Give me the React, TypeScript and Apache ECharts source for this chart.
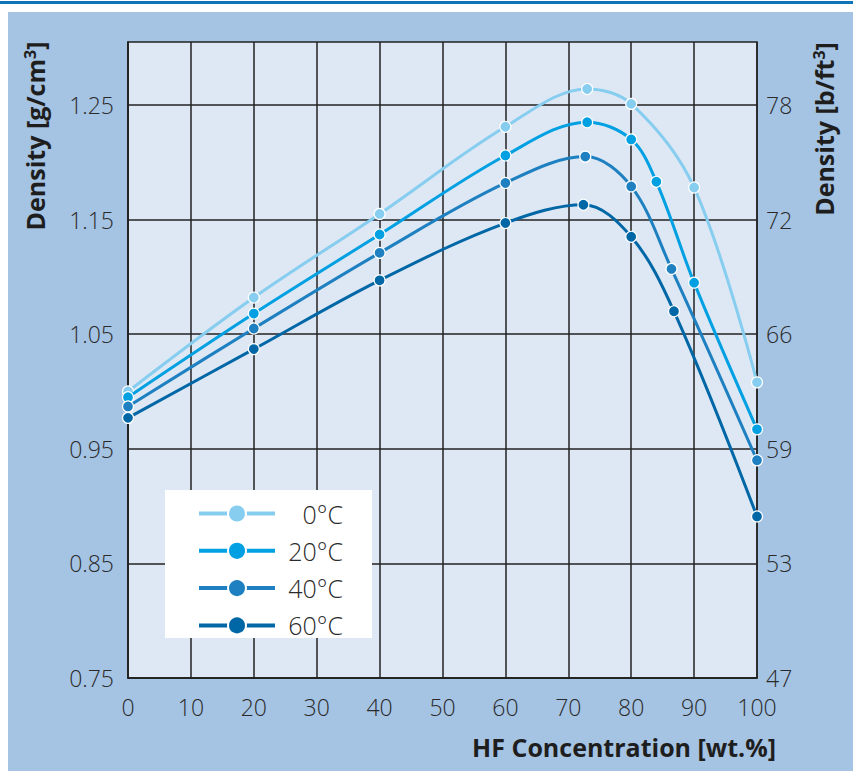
import React, { useEffect, useRef } from "react";
import * as echarts from "echarts";

// ---- Data (HF concentration [wt.%] vs density [g/cm³]) ----
const seriesNames = ["0°C", "20°C", "40°C", "60°C"];

const conc0 = [0, 20, 40, 60, 73, 80, 90, 100];
const dens0 = [1.0, 1.082, 1.155, 1.231, 1.264, 1.251, 1.178, 1.008];

const conc20 = [0, 20, 40, 60, 73, 80, 84, 90, 100];
const dens20 = [0.995, 1.068, 1.137, 1.206, 1.235, 1.22, 1.183, 1.095, 0.967];

const conc40 = [0, 20, 40, 60, 72.7, 80, 86.4, 100];
const dens40 = [0.987, 1.055, 1.121, 1.182, 1.205, 1.179, 1.107, 0.94];

const conc60 = [0, 20, 40, 60, 72.4, 80, 86.8, 100];
const dens60 = [0.977, 1.037, 1.097, 1.147, 1.163, 1.135, 1.07, 0.891];

const leftTickValues = [0.75, 0.85, 0.95, 1.05, 1.15, 1.25];
const rightTickLabels = ["47", "53", "59", "66", "72", "78"];

const seriesColors = ["#86cdef", "#00a0e2", "#1e80c0", "#0067a7"];

const FONT = "'Open Sans', 'Noto Sans', sans-serif";
const TEXT = "#2a2a2a";
const TITLE = "#1e1e1e";
const GRIDC = "#222222";

function pairs(xs: number[], ys: number[]) {
  return xs.map((x, i) => [x, ys[i]]);
}

const titleRich = {
  b: {
    fontSize: 25,
    fontWeight: "bold",
    fontFamily: FONT,
    color: TITLE,
    lineHeight: 27,
  },
  s: {
    fontSize: 16,
    fontWeight: "bold",
    fontFamily: FONT,
    color: TITLE,
    lineHeight: 16,
    verticalAlign: "top",
  },
};

export default function App() {
  const ref = useRef<HTMLDivElement>(null);

  useEffect(() => {
    if (!ref.current) return;
    const chart = echarts.init(ref.current, undefined, { renderer: "svg" });

    const allData = [
      pairs(conc0, dens0),
      pairs(conc20, dens20),
      pairs(conc40, dens40),
      pairs(conc60, dens60),
    ];

    const option: any = {
      animation: false,
      backgroundColor: "#ffffff",
      grid: {
        left: 128,
        top: 42,
        width: 629,
        height: 636,
        show: true,
        backgroundColor: "#dee8f4",
        borderColor: GRIDC,
        borderWidth: 1.5,
        containLabel: false,
      },
      legend: {
        show: true,
        orient: "vertical",
        left: 197,
        top: 501,
        padding: 0,
        itemWidth: 76,
        itemHeight: 22.5,
        itemGap: 12.3,
        data: seriesNames,
        lineStyle: { width: 4 },
        formatter: (name: string) => `{a|${name}}`,
        textStyle: {
          color: TEXT,
          fontFamily: FONT,
          fontSize: 25,
          lineHeight: 22,
          rich: {
            a: {
              width: 63,
              align: "right",
              fontSize: 25,
              fontWeight: 300,
              lineHeight: 22,
              fontFamily: FONT,
              color: TEXT,
            },
          },
        },
      },
      xAxis: {
        type: "value",
        min: 0,
        max: 100,
        interval: 10,
        axisLine: { show: true, lineStyle: { color: GRIDC, width: 1.5 } },
        axisTick: { show: false },
        axisLabel: {
          fontSize: 23,
          fontWeight: 300,
          fontFamily: FONT,
          color: TEXT,
          margin: 17,
        },
        splitLine: { show: true, lineStyle: { color: GRIDC, width: 1.5 } },
      },
      yAxis: [
        {
          type: "value",
          min: 0.75,
          max: 1.305,
          position: "left",
          axisLine: { show: true, lineStyle: { color: GRIDC, width: 1.5 } },
          axisTick: { show: false, customValues: leftTickValues },
          axisLabel: {
            customValues: leftTickValues,
            formatter: (v: number) => v.toFixed(2),
            fontSize: 23,
            fontWeight: 300,
            fontFamily: FONT,
            color: TEXT,
            margin: 14,
          },
          splitLine: { show: true, lineStyle: { color: GRIDC, width: 1.5 } },
        },
        {
          type: "value",
          min: 0.75,
          max: 1.305,
          position: "right",
          axisLine: { show: false },
          axisTick: { show: false, customValues: leftTickValues },
          axisLabel: {
            customValues: leftTickValues,
            formatter: (v: number) => {
              const i = leftTickValues.findIndex((t) => Math.abs(t - v) < 1e-6);
              return i >= 0 ? rightTickLabels[i] : "";
            },
            fontSize: 23,
            fontWeight: 300,
            fontFamily: FONT,
            color: TEXT,
            margin: 9,
          },
          splitLine: { show: false },
        },
      ],
      graphic: [
        {
          type: "rect",
          z: -10,
          silent: true,
          shape: { x: 0, y: 1, width: 853, height: 3 },
          style: { fill: "#0f73b8" },
        },
        {
          type: "rect",
          z: -10,
          silent: true,
          shape: { x: 8, y: 12, width: 845, height: 759 },
          style: { fill: "#a5c3e2" },
        },
        {
          type: "rect",
          z: 3,
          silent: true,
          shape: { x: 165, y: 490, width: 207, height: 148 },
          style: { fill: "#ffffff" },
        },
        {
          type: "text",
          x: 35,
          y: 136,
          rotation: Math.PI / 2,
          style: {
            text: "{b|Density [g/cm}{s|3}{b|]}",
            rich: titleRich,
            align: "center",
            verticalAlign: "middle",
            fontSize: 25,
            fontWeight: "bold",
            fontFamily: FONT,
            fill: TITLE,
          },
        },
        {
          type: "text",
          x: 824,
          y: 129,
          rotation: Math.PI / 2,
          style: {
            text: "{b|Density [b/ft}{s|3}{b|]}",
            rich: titleRich,
            align: "center",
            verticalAlign: "middle",
            fontSize: 25,
            fontWeight: "bold",
            fontFamily: FONT,
            fill: TITLE,
          },
        },
        {
          type: "text",
          x: 776,
          y: 747,
          style: {
            text: "HF Concentration [wt.%]",
            align: "right",
            verticalAlign: "middle",
            fontSize: 25,
            fontWeight: "bold",
            fontFamily: FONT,
            fill: TITLE,
          },
        },
      ],
      series: seriesNames.map((name, i) => ({
        name,
        type: "line",
        xAxisIndex: 0,
        yAxisIndex: 0,
        data: allData[i],
        smooth: 0.35,
        symbol: "circle",
        symbolSize: 11,
        showSymbol: true,
        clip: false,
        z: 2 + i,
        lineStyle: { color: seriesColors[i], width: 3 },
        itemStyle: {
          color: seriesColors[i],
          borderColor: "#ffffff",
          borderWidth: 1.2,
        },
      })),
    };

    chart.setOption(option);
    return () => chart.dispose();
  }, []);

  return (
    <div
      ref={ref}
      style={{
        position: "absolute",
        left: 0,
        top: 0,
        width: 853,
        height: 771,
        background: "#fff",
      }}
    />
  );
}
